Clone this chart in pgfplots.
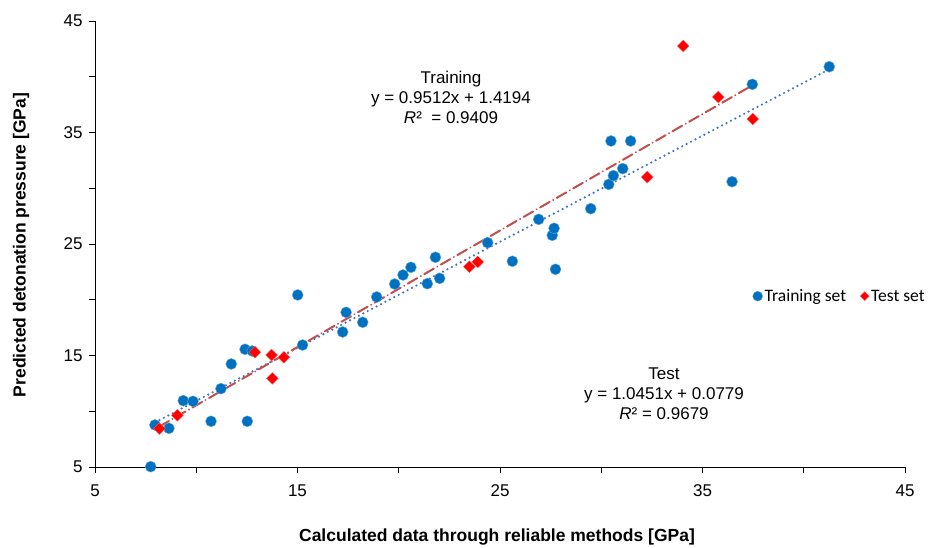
\documentclass[border=0pt]{standalone}
\usepackage{pgfplots}
\pgfplotsset{compat=1.18}
\usepackage{fontspec}
\setmainfont{Liberation Sans}
\newfontfamily\carlito{Carlito}
\definecolor{ptblue}{HTML}{0070C0}
\definecolor{ptred}{HTML}{FF0000}
\definecolor{lnblue}{HTML}{4472C4}
\definecolor{lnred}{HTML}{C0504D}
\begin{document}
\begin{tikzpicture}
\useasboundingbox (-95pt,-80pt) rectangle (838pt,467pt);
\begin{axis}[
  width=810pt, height=446pt, scale only axis,
  xmin=5, xmax=45, ymin=5, ymax=45,
  axis lines=left, axis line style={-, line width=0.9pt},
  xtick={5,15,...,45}, ytick={5,15,...,45},
  minor xtick={10,20,30,40}, minor ytick={10,20,30,40},
  tick align=outside, major tick length=6pt, minor tick length=6pt,
  tick style={line width=0.9pt, black},
  /pgf/number format/assume math mode=true,
  ticklabel style={font=\fontsize{17}{20}\selectfont},
  xticklabel style={yshift=-8pt},
  yticklabel style={xshift=-3pt},
  clip=false,
  legend style={at={(0.808,0.383)}, anchor=west, draw=none, fill=none,
    font=\carlito\fontsize{17.5}{20}\selectfont},
  legend columns=2,
  /tikz/every even column/.append style={column sep=12pt},
]
\addplot[forget plot, lnblue, line width=2.4pt, dash pattern=on 0pt off 5pt, line cap=round]
  coordinates {(7.75,8.79) (41.26,40.67)};
\addplot[forget plot, lnred, line width=2pt, dash pattern=on 11pt off 4pt on 0.1pt off 4pt, line cap=round]
  coordinates {(8.18,8.63) (37.48,39.25)};
\addplot[only marks, mark=*, mark size=5.5pt, mark options={fill=ptblue, draw=ptblue!60!white, line width=0.4pt},
  legend image post style={mark size=5pt}]
  table {
x y
7.75 5.03
7.96 8.77
8.65 8.47
9.36 10.95
9.84 10.89
10.73 9.10
11.22 12.03
11.73 14.24
12.41 15.56
12.52 9.10
12.77 15.40
15.01 20.43
15.25 15.94
17.23 17.11
17.40 18.87
18.22 17.98
18.91 20.25
19.80 21.41
20.21 22.22
20.60 22.91
21.41 21.44
21.81 23.81
22.02 21.92
24.39 25.12
25.61 23.45
26.91 27.21
27.58 25.78
27.67 26.41
27.74 22.73
29.48 28.17
30.37 30.35
30.60 31.13
31.06 31.76
30.48 34.24
31.45 34.24
36.46 30.59
37.46 39.32
41.26 40.90
};
\addlegendentry{Training set}
\addplot[only marks, mark=square*, mark size=4.2pt, mark options={fill=ptred, draw=ptred!60!white, line width=0.3pt, rotate=45},
  legend image post style={mark size=3.2pt}]
  table {
x y
8.18 8.44
9.07 9.64
12.90 15.29
13.72 15.04
13.76 12.95
14.33 14.84
23.49 22.96
23.90 23.39
32.27 31.00
34.05 42.76
35.78 38.18
37.48 36.21
};
\addlegendentry{Test set}
\node[align=center, font=\fontsize{17}{20}\selectfont] at (axis cs:22.58,38.18)
  {Training\\y = 0.9512x + 1.4194\\\textit{R}²\ \ = 0.9409};
\node[align=center, font=\fontsize{17}{20}\selectfont] at (axis cs:33.10,11.55)
  {Test\\y = 1.0451x + 0.0779\\\textit{R}² = 0.9679};
\end{axis}
\node[font=\bfseries\fontsize{17.5}{20}\selectfont] at (402pt,-70pt)
  {Calculated data through reliable methods [GPa]};
\node[rotate=90, font=\bfseries\fontsize{17.5}{20}\selectfont] at (-74pt,222pt)
  {Predicted detonation pressure [GPa]};
\end{tikzpicture}
\end{document}
